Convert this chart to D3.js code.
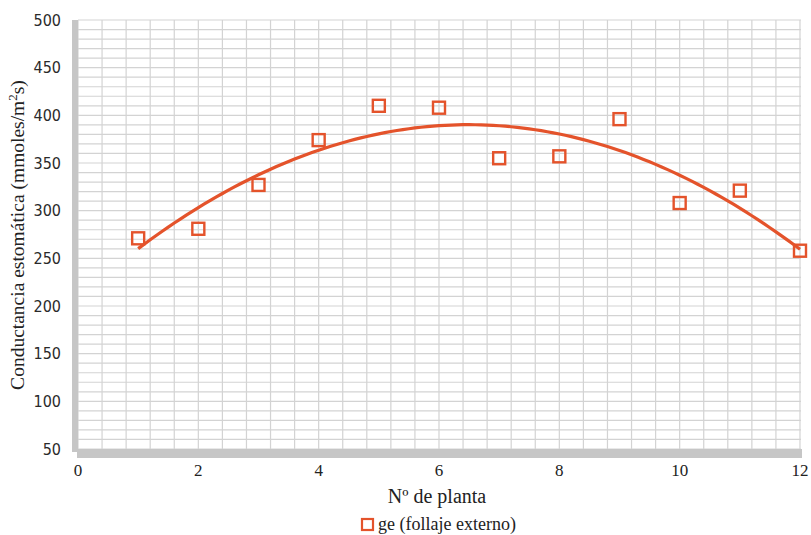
<!DOCTYPE html>
<html>
<head>
<meta charset="utf-8">
<script src="https://cdn.jsdelivr.net/npm/d3@7"></script>
<style>
  body { margin: 0; background: #fff; }
  svg { display: block; }
</style>
</head>
<body>
<div id="chart"></div>
<script>
// plant numbers and measured conductance
const plants = [1, 2, 3, 4, 5, 6, 7, 8, 9, 10, 11, 12];
const conductance = [271, 281, 327, 374, 410, 408, 355, 357, 396, 308, 321, 258];

const xTicks = [0, 2, 4, 6, 8, 10, 12];
const yTicks = [50, 100, 150, 200, 250, 300, 350, 400, 450, 500];

const width = 811, height = 535;
const plotL = 78, plotR = 801, plotT = 20, plotB = 449;

const svg = d3.select("#chart").append("svg")
    .attr("width", width)
    .attr("height", height);

const x = d3.scaleLinear().domain([0, 12]).range([plotL, plotR - 1]);
const y = d3.scaleLinear().domain([50, 500]).range([plotB, plotT]);

// minor grid
const grid = svg.append("g").attr("stroke", "#d3d3d3").attr("stroke-width", 1.2);
d3.range(0, 12.01, 0.4).forEach(v => {
    grid.append("line").attr("x1", x(v)).attr("x2", x(v)).attr("y1", plotT).attr("y2", plotB);
});
d3.range(50, 500.1, 10).forEach(v => {
    grid.append("line").attr("x1", plotL).attr("x2", plotR).attr("y1", y(v)).attr("y2", y(v));
});

// walls (left + floor)
svg.append("rect").attr("x", 72).attr("y", plotT).attr("width", 6).attr("height", plotB - plotT + 3).attr("fill", "#c6c6c6");
svg.append("rect").attr("x", 77).attr("y", plotB).attr("width", plotR - 76).attr("height", 9).attr("fill", "#c6c6c6");

// y tick labels
svg.append("g").selectAll("text").data(yTicks).join("text")
    .attr("x", 61).attr("y", d => y(d)).attr("dy", "0.36em")
    .attr("text-anchor", "end")
    .attr("font-family", "DejaVu Sans Condensed, DejaVu Sans, sans-serif").attr("font-size", 16)
    .attr("fill", "#2a2a2a")
    .text(d => d);

// x tick labels
svg.append("g").selectAll("text").data(xTicks).join("text")
    .attr("x", d => x(d)).attr("y", 476)
    .attr("text-anchor", "middle")
    .attr("font-family", "Liberation Serif, serif").attr("font-size", 17)
    .attr("fill", "#222")
    .text(d => d);

// axis titles
svg.append("text").attr("x", 437).attr("y", 503).attr("text-anchor", "middle")
    .attr("font-family", "Liberation Serif, serif").attr("font-size", 20).attr("fill", "#222")
    .text("Nº de planta");
svg.append("text").attr("transform", "translate(24,235) rotate(-90)").attr("text-anchor", "middle")
    .attr("font-family", "Liberation Serif, serif").attr("font-size", 19.5).attr("fill", "#222")
    .html("Conductancia estomática (mmoles/m<tspan baseline-shift='super' font-size='13'>2</tspan>s)");

// quadratic trend (least squares on the data)
function quadFit(xs, ys) {
    let s = [0, 0, 0, 0, 0], t = [0, 0, 0];
    xs.forEach((xv, i) => {
        for (let k = 0; k < 5; k++) s[k] += Math.pow(xv, k);
        for (let k = 0; k < 3; k++) t[k] += Math.pow(xv, k) * ys[i];
    });
    const M = [[s[0], s[1], s[2], t[0]], [s[1], s[2], s[3], t[1]], [s[2], s[3], s[4], t[2]]];
    for (let i = 0; i < 3; i++) {
        for (let j = i + 1; j < 3; j++) {
            const f = M[j][i] / M[i][i];
            for (let k = i; k < 4; k++) M[j][k] -= f * M[i][k];
        }
    }
    const c = [0, 0, 0];
    for (let i = 2; i >= 0; i--) {
        let v = M[i][3];
        for (let k = i + 1; k < 3; k++) v -= M[i][k] * c[k];
        c[i] = v / M[i][i];
    }
    return c;
}
const coef = quadFit(plants, conductance);
const trend = d3.range(1, 12.001, 0.1).map(v => [v, coef[0] + coef[1] * v + coef[2] * v * v]);

svg.append("path")
    .datum(trend)
    .attr("fill", "none")
    .attr("stroke", "#e4532b")
    .attr("stroke-width", 3.2)
    .attr("d", d3.line().x(d => x(d[0])).y(d => y(d[1])));

// markers
const sz = 12;
svg.append("g").selectAll("rect").data(plants).join("rect")
    .attr("x", d => x(d) - sz / 2)
    .attr("y", (d, i) => y(conductance[i]) - sz / 2)
    .attr("width", sz).attr("height", sz)
    .attr("fill", "none")
    .attr("stroke", "#e4532b")
    .attr("stroke-width", 2.4);

// legend
svg.append("rect").attr("x", 362).attr("y", 519).attr("width", 11).attr("height", 11)
    .attr("fill", "none").attr("stroke", "#e4532b").attr("stroke-width", 2.2);
svg.append("text").attr("x", 378).attr("y", 530)
    .attr("font-family", "Liberation Serif, serif").attr("font-size", 18).attr("fill", "#222")
    .text("ge (follaje externo)");
</script>
</body>
</html>
